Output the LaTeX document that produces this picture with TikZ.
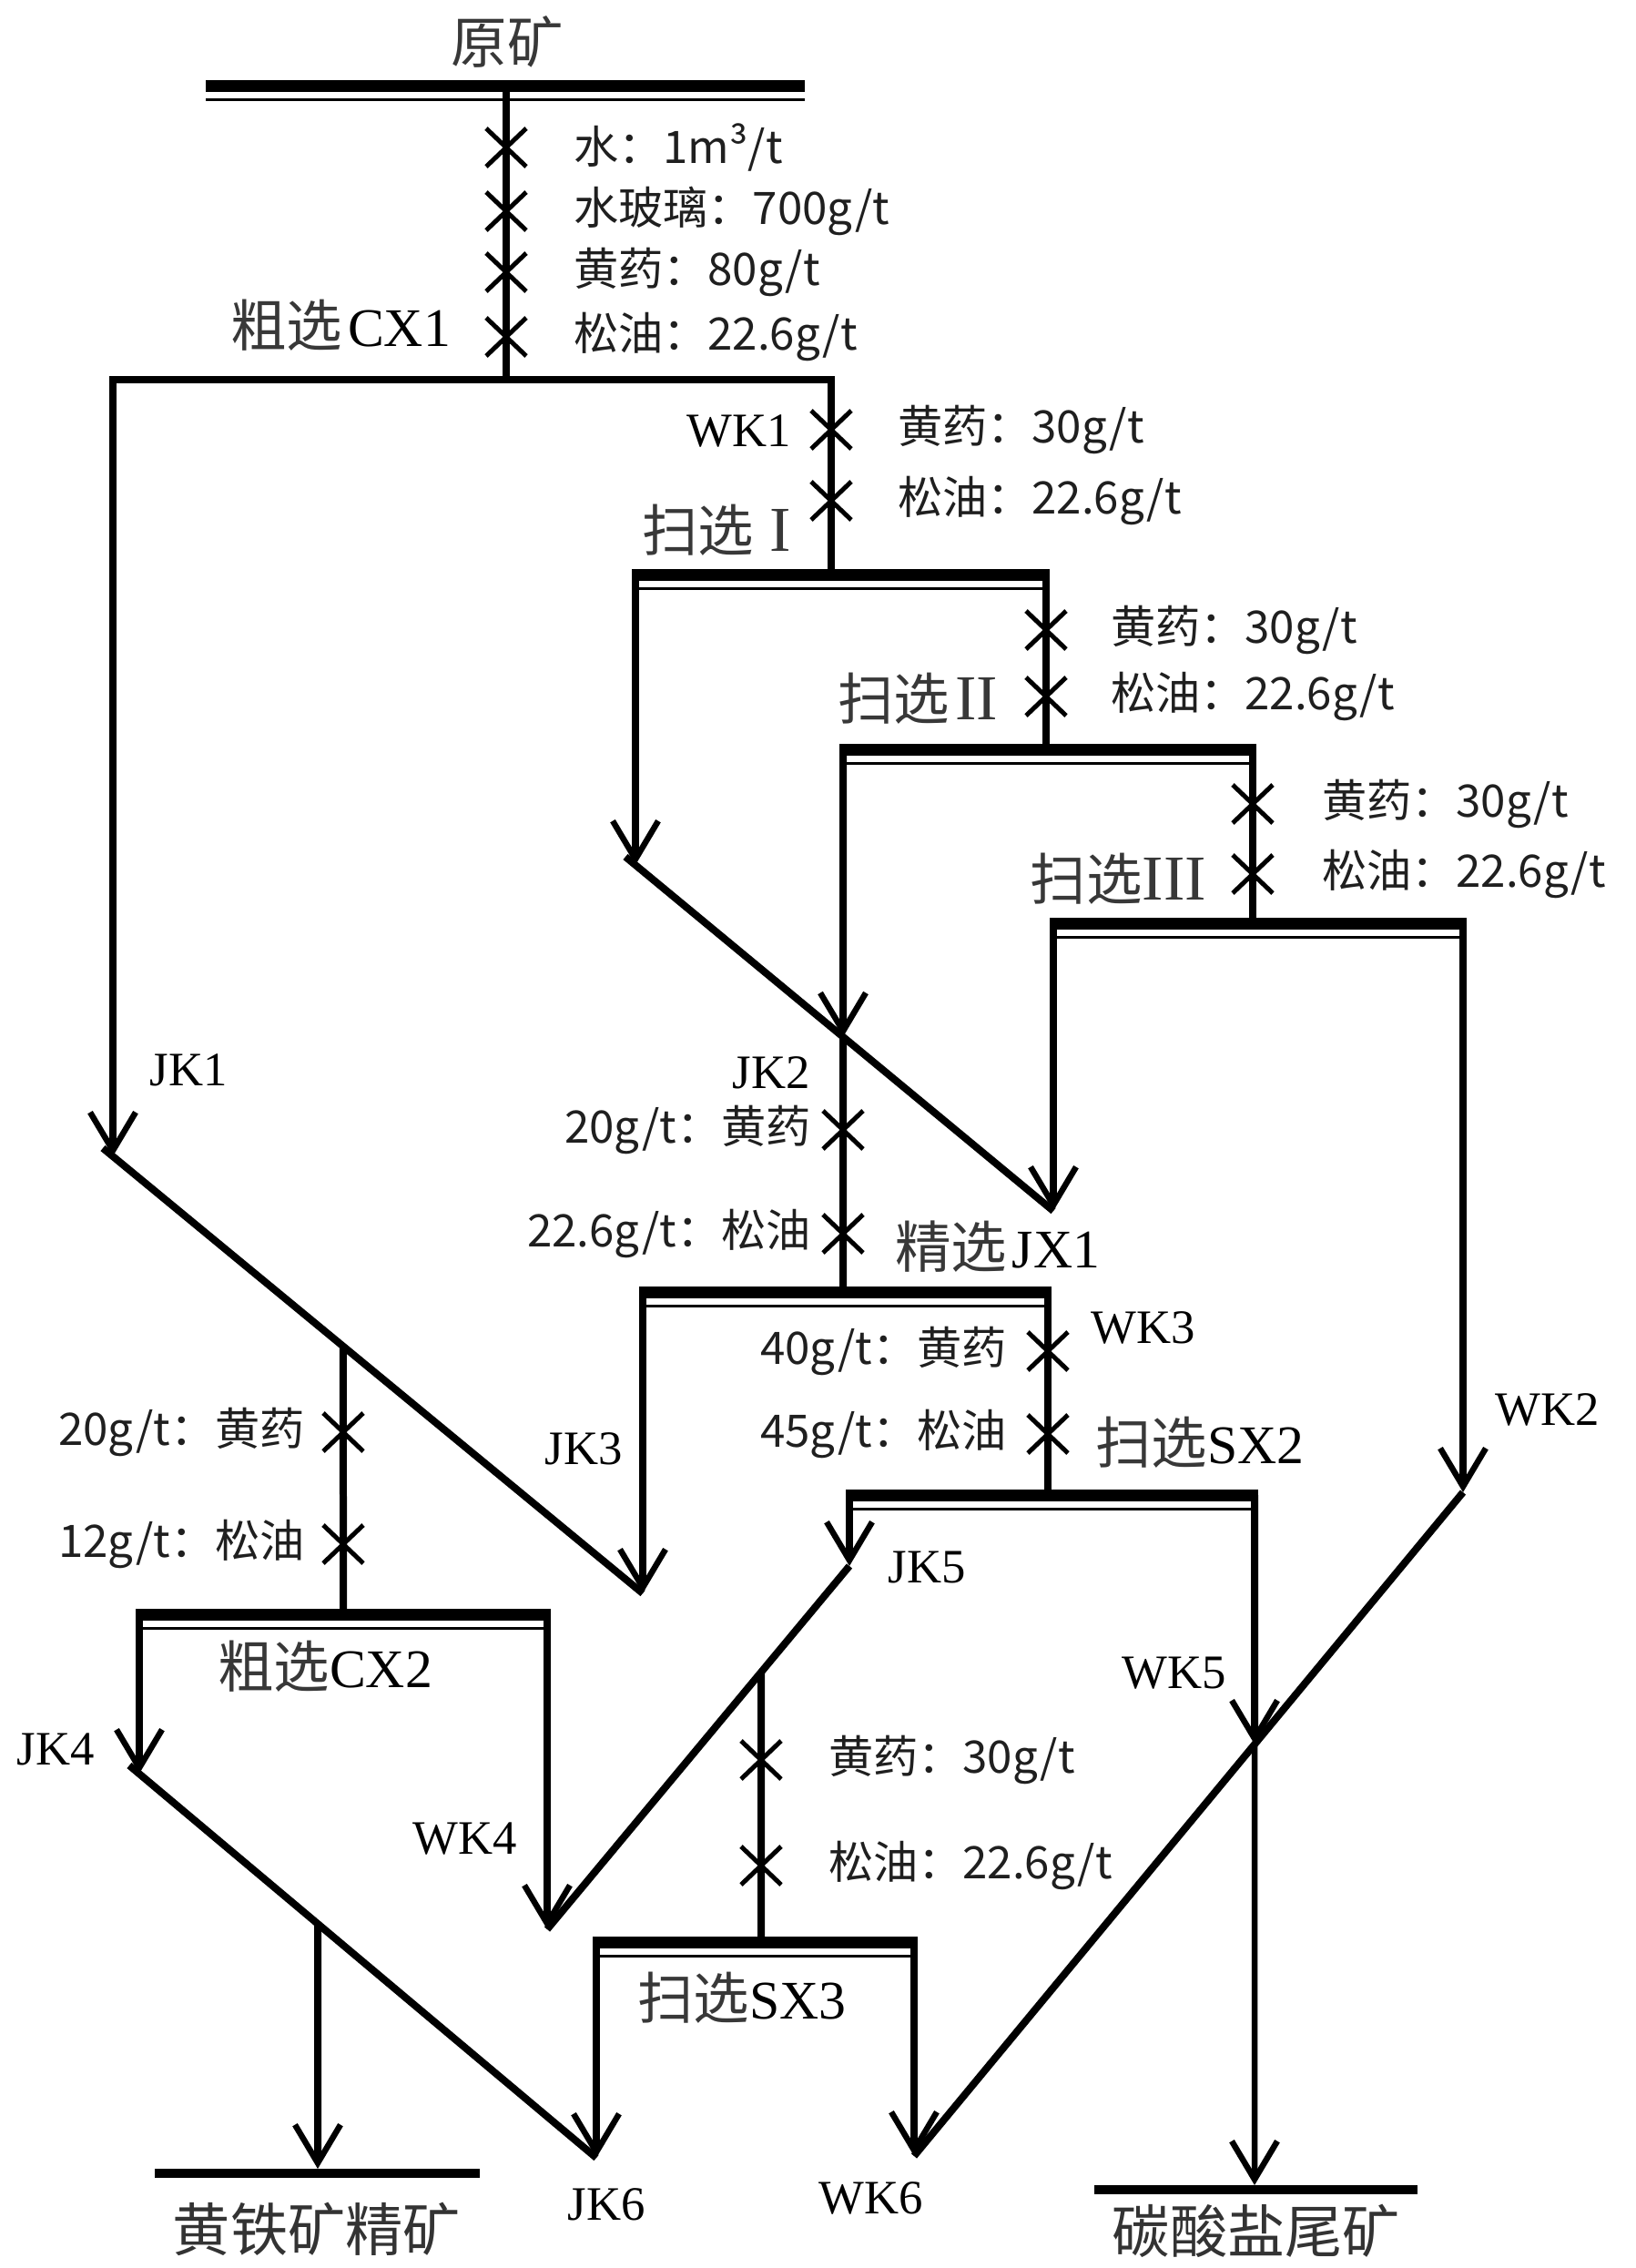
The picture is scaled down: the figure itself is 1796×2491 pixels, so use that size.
\documentclass[tikz,border=0pt]{standalone}
\usepackage{fontspec}
\setmainfont{Liberation Serif}
\newfontfamily\cjk{Noto Sans CJK SC}
\usetikzlibrary{arrows.meta}
\newcommand\mystg[1]{{\cjk\fontsize{17.5}{20}\selectfont\color{black!78}#1}}
\newcommand\mylat[1]{{\fontsize{15}{17}\selectfont #1}}
\newcommand\mystl[1]{{\fontsize{17}{19}\selectfont #1}}
\newcommand\myrom[1]{{\fontsize{20}{22}\selectfont\color{black!78}#1}}
\newcommand\myrg[1]{{\cjk\fontsize{14}{16}\selectfont\color{black!88}#1}}
\newcommand\myprd[1]{{\cjk\fontsize{18}{20}\selectfont\color{black!80}#1}}
\newcommand\mybar[4]{%
  \fill (#1,#3) rectangle (#2,#3+13);
  \draw[line width=0.3mm] (#1,#3+21) -- (#2,#3+21);
  \coordinate (#4L) at (#1+4,#3+6);
  \coordinate (#4R) at (#2-4,#3+6);
}
\begin{document}
\begin{tikzpicture}[x=0.1mm,y=-0.1mm,
  flow/.style={line width=0.8mm},
  arr/.style={line width=0.8mm,-{Straight Barb[length=4.2mm,width=5mm,line width=0.65mm]}},
  thinarr/.style={line width=0.65mm,-{Straight Barb[length=4.2mm,width=5mm,line width=0.65mm]}},
  lbl/.style={inner sep=0pt,outer sep=0pt},
  prodbar/.style={line width=1mm},
  xm/.pic={\draw[line width=0.5mm] (-22,-21)--(22,21) (-22,21)--(22,-21);}
]
\fill[white] (0,0) rectangle (1796,2491);
\useasboundingbox (0,0) rectangle (1796,2491);

% ---------- key coordinates ----------
\coordinate (feed0) at (556,101);
\coordinate (cx1) at (556,417);
\coordinate (cx1R) at (913,417);
\coordinate (cx1L) at (124,417);
\coordinate (jk1) at (124,1270);
\coordinate (saIn) at (913,625);
\coordinate (sbIn) at (1149,817);
\coordinate (scIn) at (1376,1008);
\coordinate (jk2s) at (698,950);
\coordinate (jx1tip) at (1157,1330);
\coordinate (wk2) at (1607,1639);
\coordinate (wk6) at (1004,2368);
\coordinate (jk3) at (706,1750);
\coordinate (jxIn) at (926,1413);
\coordinate (sxIn) at (1151,1636);
\coordinate (jk5) at (933,1720);
\coordinate (wk4) at (601,2119);
\coordinate (cbIn) at (377,1767);
\coordinate (jk4) at (153,1948);
\coordinate (jk6) at (655,2370);
\coordinate (sdIn) at (836,2127);
\coordinate (d1a) at (113,1261);
\coordinate (d2a) at (687,941);
\coordinate (d5a) at (142,1939);
\coordinate (pyTip) at (349,2382);
\coordinate (tlTip) at (1378,2400);
\coordinate (pyL) at (170,2387);
\coordinate (pyR) at (527,2387);
\coordinate (tlL) at (1202,2405);
\coordinate (tlR) at (1557,2405);

% ---------- stage bars ----------
\mybar{226}{884}{88}{top}
\mybar{694}{1153}{625}{sa}
\mybar{922}{1380}{817}{sb}
\mybar{1153}{1611}{1008}{sc}
\mybar{702}{1155}{1413}{jx}
\mybar{929}{1382}{1636}{sx}
\mybar{149}{605}{1767}{cb}
\mybar{651}{1008}{2127}{sd}

% ---------- intersections ----------
\coordinate (jk2p) at (intersection cs: first line={(d2a)--(jx1tip)}, second line={(926,0)--(926,10)});
\coordinate (wk5p) at (intersection cs: first line={(wk2)--(wk6)}, second line={(1378,0)--(1378,10)});
\coordinate (sdTop) at (intersection cs: first line={(jk5)--(wk4)}, second line={(836,0)--(836,10)});
\coordinate (cbTop) at (intersection cs: first line={(d1a)--(jk3)}, second line={(377,0)--(377,10)});
\coordinate (pyTop) at (intersection cs: first line={(d5a)--(jk6)}, second line={(349,0)--(349,10)});

% ---------- flows ----------
\draw[flow] (feed0) -- (cx1);
\draw[arr,line join=miter] (cx1R) -- (cx1L) -- (jk1);
\draw[flow] (913,413) -- (saIn);
\draw[flow] (d1a) -- (jk3);

\draw[arr] (saL) -- (jk2s);
\draw[flow] (d2a) -- (jx1tip);
\draw[flow] (saR) -- (sbIn);

\draw[arr] (sbL) -- (jk2p);
\draw[flow] (jk2p) -- (jxIn);
\draw[flow] (sbR) -- (scIn);

\draw[arr] (scL) -- (jx1tip);
\draw[arr] (scR) -- (wk2);
\draw[flow] (wk2) -- (wk6);

\draw[arr] (jxL) -- (jk3);
\draw[flow] (jxR) -- (sxIn);

\draw[arr] (sxL) -- (jk5);
\draw[arr] (sxR) -- (wk5p);
\draw[thinarr] (wk5p) -- (tlTip);
\draw[flow] (jk5) -- (wk4);
\draw[flow] (sdTop) -- (sdIn);

\draw[flow] (cbTop) -- (cbIn);
\draw[arr] (cbL) -- (jk4);
\draw[arr] (cbR) -- (wk4);
\draw[flow] (d5a) -- (jk6);
\draw[arr] (pyTop) -- (pyTip);
\draw[prodbar] (pyL) -- (pyR);

\draw[arr] (sdL) -- (jk6);
\draw[arr] (sdR) -- (wk6);
\draw[prodbar] (tlL) -- (tlR);

% ---------- reagent crosses ----------
\foreach \y in {162,232,299,370} \pic at (556,\y) {xm};
\foreach \y in {472,550} \pic at (913,\y) {xm};
\foreach \y in {692,765} \pic at (1149,\y) {xm};
\foreach \y in {883,960} \pic at (1376,\y) {xm};
\foreach \y in {1241,1355} \pic at (926,\y) {xm};
\foreach \y in {1484,1575} \pic at (1151,\y) {xm};
\foreach \y in {1573,1696} \pic at (377,\y) {xm};
\foreach \y in {1933,2049} \pic at (836,\y) {xm};

% ---------- labels ----------
\node[lbl] (tOre) at (557,46) {\mystg{原矿}};
\node[lbl,anchor=west] (r1) at (630,162) {\myrg{水：1m³/t}};
\node[lbl,anchor=west] (r2) at (630,232) {\myrg{水玻璃：700g/t}};
\node[lbl,anchor=west] (r3) at (630,299) {\myrg{黄药：80g/t}};
\node[lbl,anchor=west] (r4) at (630,370) {\myrg{松油：22.6g/t}};
\node[lbl,anchor=east] (tCX1) at (495,357) {\mystg{粗选}\,\mystl{CX1}};

\node[lbl,anchor=east] (tWK1) at (869,473) {\mylat{WK1}};
\node[lbl,anchor=west] (r5) at (986,472) {\myrg{黄药：30g/t}};
\node[lbl,anchor=west] (r6) at (986,550) {\myrg{松油：22.6g/t}};
\node[lbl,anchor=east] (tSA) at (869,582) {\mystg{扫选}\enspace\myrom{I}};

\node[lbl,anchor=west] (r7) at (1220,692) {\myrg{黄药：30g/t}};
\node[lbl,anchor=west] (r8) at (1220,765) {\myrg{松油：22.6g/t}};
\node[lbl,anchor=east] (tSB) at (1096,767) {\mystg{扫选}\,\myrom{II}};

\node[lbl,anchor=west] (r9) at (1452,883) {\myrg{黄药：30g/t}};
\node[lbl,anchor=west] (r10) at (1452,960) {\myrg{松油：22.6g/t}};
\node[lbl,anchor=east] (tSC) at (1325,965) {\mystg{扫选}\myrom{III}};

\node[lbl] (tJK1) at (207,1175) {\mylat{JK1}};
\node[lbl] (tJK2) at (847,1178) {\mylat{JK2}};
\node[lbl,anchor=east] (r11) at (891,1241) {\myrg{20g/t：黄药}};
\node[lbl,anchor=east] (r12) at (891,1355) {\myrg{22.6g/t：松油}};
\node[lbl,anchor=west] (tJX) at (983,1369) {\mystg{精选}\,\mystl{JX1}};

\node[lbl] (tJK3) at (641,1591) {\mylat{JK3}};
\node[lbl] (tWK3) at (1256,1458) {\mylat{WK3}};
\node[lbl,anchor=east] (r13) at (1106,1484) {\myrg{40g/t：黄药}};
\node[lbl,anchor=east] (r14) at (1106,1575) {\myrg{45g/t：松油}};
\node[lbl,anchor=west] (tSX2) at (1203,1584) {\mystg{扫选}\mystl{SX2}};
\node[lbl] (tWK2) at (1700,1548) {\mylat{WK2}};
\node[lbl] (tJK5) at (1018,1721) {\mylat{JK5}};

\node[lbl,anchor=east] (r15) at (335,1573) {\myrg{20g/t：黄药}};
\node[lbl,anchor=east] (r16) at (335,1696) {\myrg{12g/t：松油}};
\node[lbl] (tCX2) at (357,1830) {\mystg{粗选}\mystl{CX2}};
\node[lbl] (tJK4) at (61,1921) {\mylat{JK4}};
\node[lbl] (tWK4) at (511,2020) {\mylat{WK4}};
\node[lbl,anchor=east] (tWK5) at (1347,1838) {\mylat{WK5}};

\node[lbl,anchor=west] (r17) at (910,1933) {\myrg{黄药：30g/t}};
\node[lbl,anchor=west] (r18) at (910,2049) {\myrg{松油：22.6g/t}};
\node[lbl] (tSX3) at (815,2194) {\mystg{扫选}\mystl{SX3}};

\node[lbl] (tJK6) at (666,2421) {\mylat{JK6}};
\node[lbl] (tWK6) at (957,2414) {\mylat{WK6}};
\node[lbl] (tPy) at (348,2448) {\myprd{黄铁矿精矿}};
\node[lbl] (tTl) at (1380,2450) {\myprd{碳酸盐尾矿}};
\end{tikzpicture}
\end{document}
